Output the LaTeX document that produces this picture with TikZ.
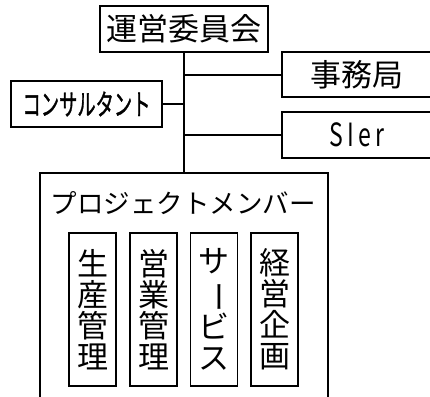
\documentclass[tikz,border=0pt]{standalone}
\usepackage{fontspec}
\usepackage{graphicx}
\newfontfamily\cjk{Noto Sans CJK JP}
\newfontfamily\cjkbold[FakeBold=1.6]{Noto Sans CJK JP}
\begin{document}
\begin{tikzpicture}[x=1pt,y=-1pt,
  upbox/.style={draw,line width=2pt,inner sep=0pt,font=\cjk\fontsize{31}{31}\selectfont},
  pmbox/.style={draw,line width=1.5pt,inner sep=0pt},
  vbox/.style={draw,line width=1.5pt,inner sep=0pt,minimum width=47pt,minimum height=153pt,align=center,font=\cjk\fontsize{31}{31}\selectfont},
  link/.style={line width=2pt}]
\useasboundingbox (0,0) rectangle (430,396);
\node[upbox,minimum width=168pt,minimum height=46pt] (top) at (184,29) {運営委員会};
\node[upbox,minimum width=150pt,minimum height=45pt] (jimu) at (357,74.5) {事務局};
\node[upbox,minimum width=151pt,minimum height=46pt] (consult) at (86.5,104) {\cjkbold\fontsize{29}{29}\selectfont\scalebox{0.63}[1]{コンサルタント}};
\node[upbox,minimum width=150pt,minimum height=46pt] (sier) at (357,135) {\fontsize{32}{32}\selectfont\scalebox{0.72}[1]{\addfontfeature{LetterSpace=18}SIer}\hspace{10pt}};
\node[pmbox,minimum width=288pt,minimum height=240pt] (pm) at (184,293) {};
\node[font=\cjk\fontsize{26.5}{26.5}\selectfont] (pmtitle) at (183,203) {プロジェクトメンバー};
\node[vbox] (v1) at (92.5,309.5) {生\\産\\管\\理};
\node[vbox] (v2) at (153.5,309.5) {営\\業\\管\\理};
\node[vbox] (v3) at (214,309.5) {サ\\\rotatebox[origin=c]{-90}{ー}\\ビ\\ス};
\node[vbox] (v4) at (274.5,309.5) {経\\営\\企\\画};
\draw[link] (top.south) -- (pm.north);
\draw[link] (jimu.west) -- (jimu.west -| top.south);
\draw[link] (consult.east) -- (consult.east -| top.south);
\draw[link] (sier.west) -- (sier.west -| top.south);
\end{tikzpicture}
\end{document}
